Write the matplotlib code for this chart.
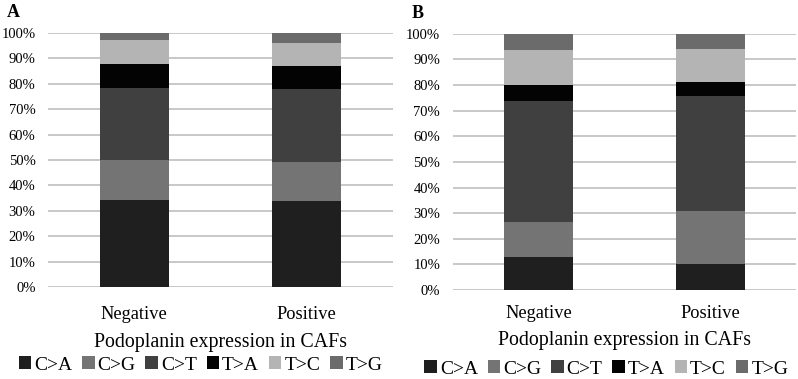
import numpy as np
import matplotlib.pyplot as plt
from matplotlib.ticker import PercentFormatter

plt.rcParams['font.family'] = ['Liberation Serif', 'DejaVu Serif']

groups = ['Negative', 'Positive']
mutations = ['C>A', 'C>G', 'C>T', 'T>A', 'T>C', 'T>G']
colors = ['#1f1f1f', '#747474', '#404040', '#030303', '#b4b4b4', '#6b6b6b']

# percent of each mutation type, per group
panel_a = {
    'C>A': [34.4, 34.0],
    'C>G': [15.6, 15.3],
    'C>T': [28.3, 28.6],
    'T>A': [9.6, 9.0],
    'T>C': [9.3, 9.1],
    'T>G': [2.8, 4.0],
}
panel_b = {
    'C>A': [12.9, 10.0],
    'C>G': [13.5, 20.8],
    'C>T': [47.2, 45.1],
    'T>A': [6.6, 5.4],
    'T>C': [13.3, 12.7],
    'T>G': [6.5, 6.0],
}

fig = plt.figure(figsize=(7.98, 3.79), dpi=100)
ax_a = fig.add_axes([0.0602, 0.2427, 0.4323, 0.670])
ax_b = fig.add_axes([0.5673, 0.2348, 0.4302, 0.676])

def draw(ax, data, letter, xpad, lpad, legend_x, legend_y):
    x = np.arange(len(groups))
    bottom = np.zeros(len(groups))
    for m, c in zip(mutations, colors):
        vals = np.array(data[m])
        ax.bar(x, vals, 0.4, bottom=bottom, color=c, label=m, zorder=3)
        bottom += vals
    ax.set_xlim(-0.5, 1.5)
    ax.set_ylim(0, 100)
    ax.set_yticks(np.arange(0, 101, 10))
    ax.yaxis.set_major_formatter(PercentFormatter(decimals=0))
    ax.grid(axis='y', color='#bfbfbf', linewidth=1.2, zorder=0)
    for s in ax.spines.values():
        s.set_visible(False)
    ax.tick_params(axis='both', length=0, labelsize=10.5)
    ax.tick_params(axis='y', pad=9)
    ax.tick_params(axis='x', pad=xpad, labelsize=13.2)
    ax.set_xticks(x)
    ax.set_xticklabels(groups)
    ax.set_xlabel('Podoplanin expression in CAFs', fontsize=14.3, labelpad=lpad)
    ax.text(-0.12, 1.063, letter, transform=ax.transAxes, fontsize=13,
            fontweight='bold', va='baseline', ha='left')
    ax.legend(loc='center', bbox_to_anchor=(legend_x, legend_y), ncol=6,
              frameon=False, fontsize=14, handlelength=0.65, handleheight=0.65,
              handletextpad=0.15, columnspacing=0.5, borderaxespad=0)

draw(ax_a, panel_a, 'A', 14, 7, 0.442, -0.307)
draw(ax_b, panel_b, 'B', 10.5, 6.5, 0.4475, -0.308)

fig.savefig('out.png', dpi=100)
